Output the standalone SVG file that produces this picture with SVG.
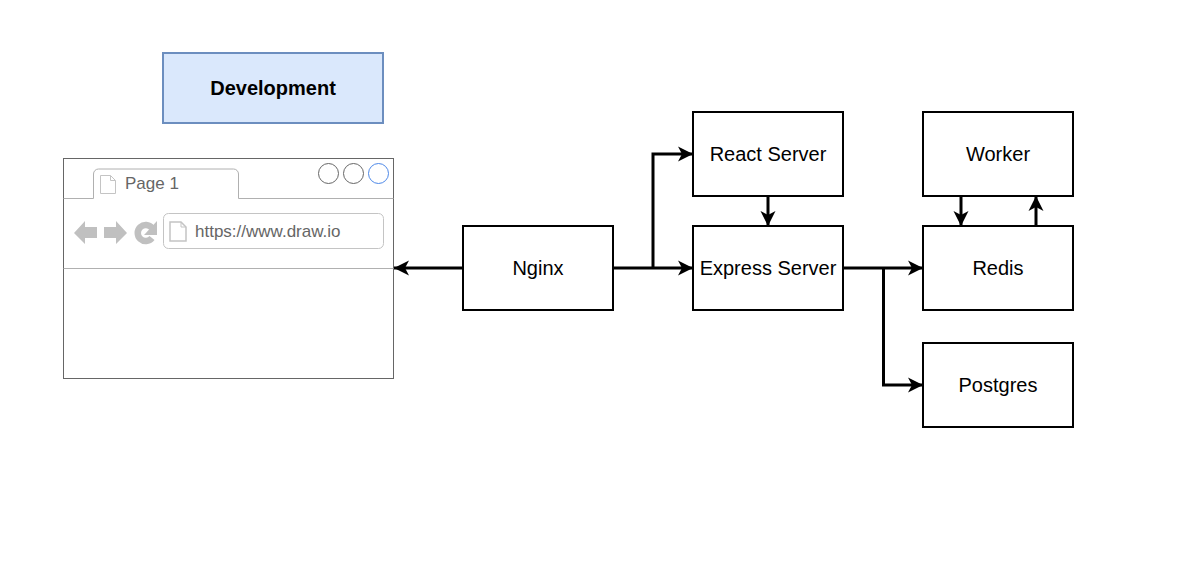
<svg xmlns="http://www.w3.org/2000/svg" width="1200" height="569" viewBox="0 0 1200 569">
<style>
text{font-family:"Liberation Sans",Arial,sans-serif;text-anchor:middle}
.box{fill:#fff;stroke:#000;stroke-width:2}
.lbl{font-size:20px;fill:#000}
.con{fill:none;stroke:#000;stroke-width:3}
.ic{fill:#c0c0c0;stroke:none}
.doc{fill:#fff;stroke:#c4c4c4;stroke-width:1}
.br{font-size:17px;fill:#666;text-anchor:start}
</style>
<defs>
<marker id="a" markerUnits="userSpaceOnUse" markerWidth="18" markerHeight="18" refX="15" refY="9" orient="auto" overflow="visible">
<path d="M0 1.500L15 9L0 16.500L4 9Z" fill="#000"/>
</marker>
</defs>
<rect width="1200" height="569" fill="#fff"/>
<g id="development">
<rect x="163" y="53" width="220" height="70" fill="#dae8fc" stroke="#6c8ebf" stroke-width="2"/>
<text x="273" y="95" font-size="20" font-weight="700" fill="#000">Development</text>
</g>
<g id="browser">
<rect x="63.500" y="158.500" width="330" height="220" fill="#fff" stroke="#666" stroke-width="1"/>
<path d="M63.500 198.500H93.500V174a5 5 0 0 1 5-5H233.500a5 5 0 0 1 5 5V198.500H393.500" fill="none" stroke="#b0b0b0" stroke-width="1"/>
<path d="M63.500 268.500H393.500" fill="none" stroke="#b0b0b0" stroke-width="1"/>
<path class="doc" d="M100.500 175.500H110.500L115.500 180.500V193.500H100.500Z"/>
<path d="M110.500 175.500V180.500H115.500" fill="none" stroke="#c4c4c4"/>
<text class="br" x="125" y="189">Page 1</text>
<circle cx="328.500" cy="173.500" r="10" fill="#fff" stroke="#666"/>
<circle cx="353.500" cy="173.500" r="10" fill="#fff" stroke="#666"/>
<circle cx="378.500" cy="173.500" r="10" fill="#fff" stroke="#4d88e8"/>
<path class="ic" d="M74 233L85 221V227H97V238H85V244Z"/>
<path class="ic" d="M127 233L116 221V227H104V238H116V244Z"/>
<path d="M152 228A8 8 0 1 0 152 238" fill="none" stroke="#c0c0c0" stroke-width="6.500"/>
<path class="ic" d="M157 221V235H144Z"/>
<rect x="163.500" y="213.500" width="220" height="35" rx="5" fill="#fff" stroke="#c4c4c4"/>
<path d="M170 222H181L186 227V241H170Z" fill="#fff" stroke="#c4c4c4" stroke-width="1.500"/>
<path d="M181 222V227H186" fill="none" stroke="#c4c4c4"/>
<text class="br" x="195" y="237">https://www.draw.io</text>
</g>
<g id="nginx"><rect class="box" x="463" y="226" width="150" height="84"/><text class="lbl" x="538" y="275">Nginx</text></g>
<g id="react-server"><rect class="box" x="693" y="112" width="150" height="84"/><text class="lbl" x="768" y="161">React Server</text></g>
<g id="express-server"><rect class="box" x="693" y="226" width="150" height="84"/><text class="lbl" x="768" y="275">Express Server</text></g>
<g id="worker"><rect class="box" x="923" y="112" width="150" height="84"/><text class="lbl" x="998" y="161">Worker</text></g>
<g id="redis"><rect class="box" x="923" y="226" width="150" height="84"/><text class="lbl" x="998" y="275">Redis</text></g>
<g id="postgres"><rect class="box" x="923" y="343" width="150" height="84"/><text class="lbl" x="998" y="392">Postgres</text></g>
<g id="connectors">
<path class="con" marker-end="url(#a)" d="M463 268H394"/>
<path class="con" marker-end="url(#a)" d="M613 268H693"/>
<path class="con" marker-end="url(#a)" d="M653 268V154H693"/>
<path class="con" marker-end="url(#a)" d="M768 196V226"/>
<path class="con" marker-end="url(#a)" d="M843 268H923"/>
<path class="con" marker-end="url(#a)" d="M883.500 268V385H923"/>
<path class="con" marker-end="url(#a)" d="M961 196V226"/>
<path class="con" marker-end="url(#a)" d="M1036 226V196"/>
</g>
</svg>
